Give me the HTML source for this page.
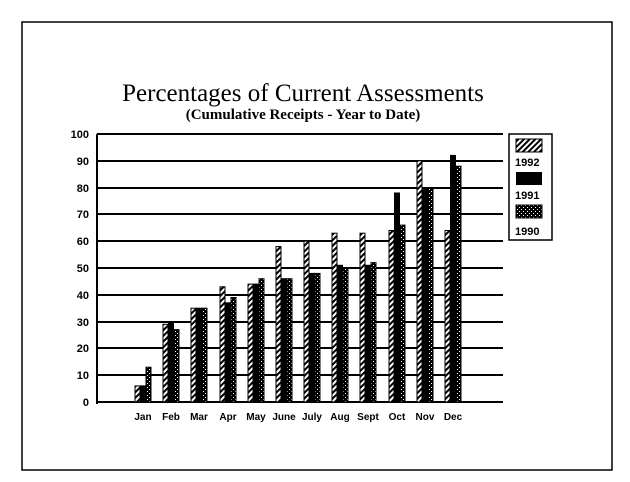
<!DOCTYPE html><html><head><style>body{margin:0;background:#fff}</style></head><body>
<svg width="630" height="477" xmlns="http://www.w3.org/2000/svg" font-family="Liberation Sans, sans-serif">
<defs>
<pattern id="h" width="4" height="4" patternUnits="userSpaceOnUse" patternTransform="rotate(45)"><rect width="4" height="4" fill="#fff"/><rect width="2" height="4" fill="#000"/></pattern>
<pattern id="d" width="4" height="4" patternUnits="userSpaceOnUse"><rect width="4" height="4" fill="#000"/><rect x="1" y="1" width="1" height="1" fill="#fff"/><rect x="3" y="3" width="1" height="1" fill="#fff"/></pattern>
</defs>
<rect x="22" y="22" width="590" height="448" fill="none" stroke="#000" stroke-width="1.5"/>
<text x="303" y="101" text-anchor="middle" font-family="Liberation Serif, serif" font-size="25">Percentages of Current Assessments</text>
<text x="303" y="119" text-anchor="middle" font-family="Liberation Serif, serif" font-size="15" font-weight="bold">(Cumulative Receipts - Year to Date)</text>
<g stroke="#000" stroke-width="2">
<line x1="97" y1="134" x2="503" y2="134"/><line x1="97" y1="161" x2="503" y2="161"/><line x1="97" y1="188" x2="503" y2="188"/><line x1="97" y1="214" x2="503" y2="214"/><line x1="97" y1="241" x2="503" y2="241"/><line x1="97" y1="268" x2="503" y2="268"/><line x1="97" y1="295" x2="503" y2="295"/><line x1="97" y1="322" x2="503" y2="322"/><line x1="97" y1="348" x2="503" y2="348"/><line x1="97" y1="375" x2="503" y2="375"/><line x1="97" y1="402" x2="503" y2="402"/>
<line x1="97" y1="134" x2="97" y2="404"/>
</g>
<g font-size="11" font-weight="bold" text-anchor="end">
<text x="89" y="138">100</text><text x="89" y="165">90</text><text x="89" y="192">80</text><text x="89" y="218">70</text><text x="89" y="245">60</text><text x="89" y="272">50</text><text x="89" y="299">40</text><text x="89" y="326">30</text><text x="89" y="352">20</text><text x="89" y="379">10</text><text x="89" y="406">0</text>
</g>
<g stroke="#000" stroke-width="1">
<rect x="135" y="385.9" width="5" height="16.1" fill="url(#h)"/><rect x="140.5" y="385.9" width="5" height="16.1" fill="#000"/><rect x="146" y="367.2" width="5" height="34.8" fill="url(#d)"/>
<rect x="163" y="324.3" width="5" height="77.7" fill="url(#h)"/><rect x="168.5" y="321.6" width="5" height="80.4" fill="#000"/><rect x="174" y="329.6" width="5" height="72.4" fill="url(#d)"/>
<rect x="191" y="308.2" width="5" height="93.8" fill="url(#h)"/><rect x="196.5" y="308.2" width="5" height="93.8" fill="#000"/><rect x="202" y="308.2" width="5" height="93.8" fill="url(#d)"/>
<rect x="220" y="286.8" width="5" height="115.2" fill="url(#h)"/><rect x="225.5" y="302.8" width="5" height="99.2" fill="#000"/><rect x="231" y="297.5" width="5" height="104.5" fill="url(#d)"/>
<rect x="248" y="284.1" width="5" height="117.9" fill="url(#h)"/><rect x="253.5" y="284.1" width="5" height="117.9" fill="#000"/><rect x="259" y="278.7" width="5" height="123.3" fill="url(#d)"/>
<rect x="276" y="246.6" width="5" height="155.4" fill="url(#h)"/><rect x="281.5" y="278.7" width="5" height="123.3" fill="#000"/><rect x="287" y="278.7" width="5" height="123.3" fill="url(#d)"/>
<rect x="304" y="241.2" width="5" height="160.8" fill="url(#h)"/><rect x="309.5" y="273.4" width="5" height="128.6" fill="#000"/><rect x="315" y="273.4" width="5" height="128.6" fill="url(#d)"/>
<rect x="332" y="233.2" width="5" height="168.8" fill="url(#h)"/><rect x="337.5" y="265.3" width="5" height="136.7" fill="#000"/><rect x="343" y="268" width="5" height="134" fill="url(#d)"/>
<rect x="360" y="233.2" width="5" height="168.8" fill="url(#h)"/><rect x="365.5" y="265.3" width="5" height="136.7" fill="#000"/><rect x="371" y="262.6" width="5" height="139.4" fill="url(#d)"/>
<rect x="389" y="230.5" width="5" height="171.5" fill="url(#h)"/><rect x="394.5" y="193" width="5" height="209" fill="#000"/><rect x="400" y="225.1" width="5" height="176.9" fill="url(#d)"/>
<rect x="417" y="160.8" width="5" height="241.2" fill="url(#h)"/><rect x="422.5" y="187.6" width="5" height="214.4" fill="#000"/><rect x="428" y="187.6" width="5" height="214.4" fill="url(#d)"/>
<rect x="445" y="230.5" width="5" height="171.5" fill="url(#h)"/><rect x="450.5" y="155.4" width="5" height="246.6" fill="#000"/><rect x="456" y="166.2" width="5" height="235.8" fill="url(#d)"/>
</g>
<g font-size="10" font-weight="bold" text-anchor="middle">
<text x="143" y="420">Jan</text><text x="171" y="420">Feb</text><text x="199" y="420">Mar</text><text x="228" y="420">Apr</text><text x="256" y="420">May</text><text x="284" y="420">June</text><text x="312" y="420">July</text><text x="340" y="420">Aug</text><text x="368" y="420">Sept</text><text x="397" y="420">Oct</text><text x="425" y="420">Nov</text><text x="453" y="420">Dec</text>
</g>
<rect x="509" y="134" width="43" height="106" fill="#fff" stroke="#000" stroke-width="1.5"/>
<rect x="516" y="139" width="26" height="13" fill="url(#h)" stroke="#000"/>
<rect x="516" y="172" width="26" height="13" fill="#000"/>
<rect x="516" y="205" width="26" height="13" fill="url(#d)" stroke="#000"/>
<g font-size="11" font-weight="bold"><text x="515" y="166">1992</text><text x="515" y="199">1991</text><text x="515" y="235">1990</text></g>
</svg></body></html>
